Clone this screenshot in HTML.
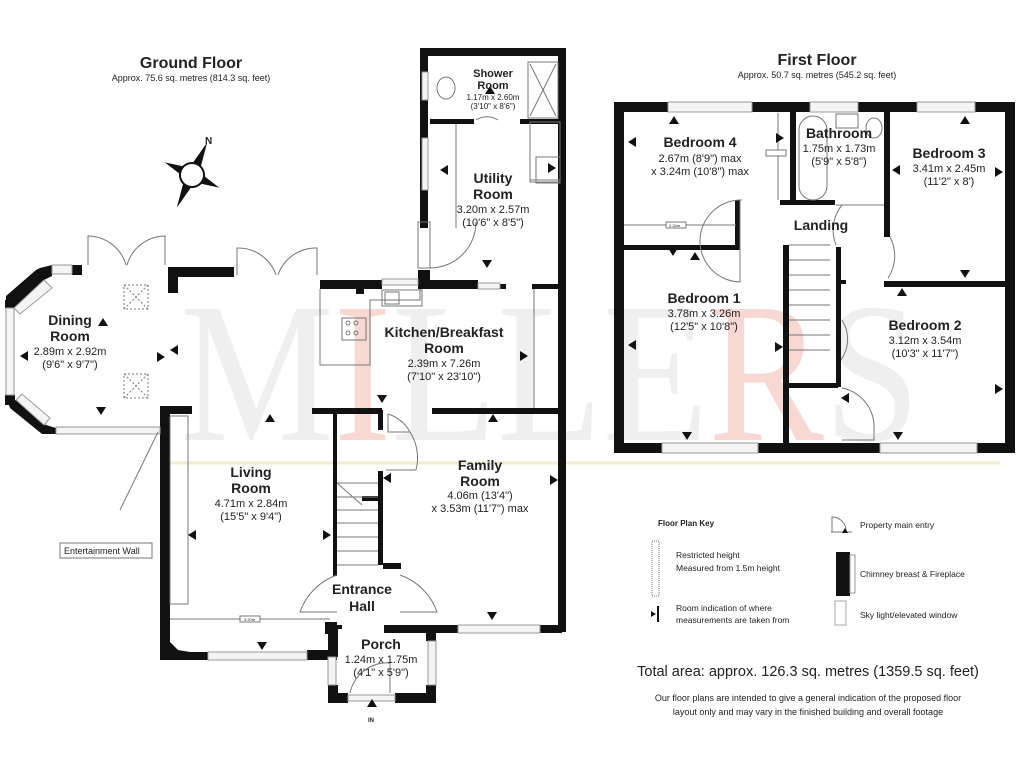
<!DOCTYPE html>
<html><head><meta charset="utf-8"><style>
html,body{margin:0;padding:0;background:#fff;}
svg{display:block;font-family:"Liberation Sans",Arial,sans-serif;}
.b{font-weight:bold;fill:#222;}
.t{fill:#222;}
.w{fill:#111;}
.win{fill:#f4f4f4;stroke:#999;stroke-width:1;}
.ln{stroke:#777;stroke-width:1;fill:none;}
.tri{fill:#111;}
</style></head><body>
<svg width="1024" height="768" viewBox="0 0 1024 768" xmlns="http://www.w3.org/2000/svg">
<rect width="1024" height="768" fill="#fff"/>
<!-- watermark -->
<text x="180" y="440" font-family="Liberation Serif,serif" font-size="200" fill="#efefef" textLength="740" lengthAdjust="spacingAndGlyphs">M<tspan fill="#f8d8d2">I</tspan>LLE<tspan fill="#f8d8d2">R</tspan>S</text>
<line x1="160" y1="463" x2="1000" y2="463" stroke="#efeed2" stroke-width="3"/>

<!-- Titles -->
<text x="191" y="68" class="b" font-size="16" text-anchor="middle">Ground Floor</text>
<text x="191" y="81" class="t" font-size="9" text-anchor="middle">Approx. 75.6 sq. metres (814.3 sq. feet)</text>
<text x="817" y="65" class="b" font-size="16" text-anchor="middle">First Floor</text>
<text x="817" y="78" class="t" font-size="9" text-anchor="middle">Approx. 50.7 sq. metres (545.2 sq. feet)</text>

<!-- Compass -->
<g transform="translate(192,175) rotate(25)">
<polygon points="0,-36 5,-8 -5,-8" class="w"/><polygon points="0,36 5,8 -5,8" class="w"/>
<polygon points="-30,0 -8,-5 -8,5" class="w"/><polygon points="30,0 8,-5 8,5" class="w"/>
<circle r="12" fill="#fff" stroke="#111" stroke-width="2"/>
</g>
<text x="205" y="144" class="b" font-size="10">N</text>

<!-- ===== GROUND FLOOR WALLS ===== -->
<g class="w">
<rect x="420" y="48" width="146" height="8"/>
<rect x="420" y="48" width="8" height="180"/>
<rect x="558" y="48" width="8" height="584"/>
<rect x="430" y="119" width="44" height="5"/>
<rect x="520" y="119" width="40" height="5"/>
<rect x="320" y="280" width="62" height="9"/>
<rect x="418" y="270" width="12" height="18"/>
<rect x="418" y="280" width="60" height="9"/>
<rect x="500" y="284" width="6" height="5"/>
<rect x="532" y="284" width="28" height="5"/>
<rect x="356" y="282" width="8" height="12"/>
<rect x="168" y="267" width="66" height="10"/>
<rect x="168" y="267" width="10" height="26"/>
<rect x="72" y="265" width="10" height="10"/>
<polygon points="40,268 52,265 52,276 44,280 14,308 6,305 6,296 36,270"/>
<rect x="5" y="300" width="10" height="8"/>
<rect x="5" y="395" width="10" height="10"/>
<polygon points="8,402 16,400 46,425 56,428 56,434 42,434 10,408"/>
<rect x="160" y="406" width="10" height="254"/>
<rect x="160" y="406" width="32" height="8"/>
<polygon points="168,640 178,650 190,652 208,652 208,660 160,660 160,640"/>
<rect x="307" y="650" width="30" height="10"/>
<rect x="312" y="408" width="70" height="6"/>
<rect x="333" y="410" width="4" height="166"/>
<rect x="432" y="408" width="128" height="6"/>
<rect x="378" y="410" width="5" height="20"/>
<rect x="378" y="471" width="5" height="94"/>
<rect x="362" y="496" width="18" height="5"/>
<rect x="383" y="563" width="18" height="6"/>
<rect x="385" y="625" width="73" height="8"/>
<rect x="540" y="625" width="22" height="8"/>
<rect x="325" y="622" width="12" height="12"/>
<rect x="328" y="627" width="10" height="30"/>
<rect x="426" y="627" width="10" height="14"/>
<rect x="328" y="685" width="10" height="18"/>
<rect x="426" y="685" width="10" height="18"/>
<rect x="328" y="693" width="20" height="10"/>
<rect x="395" y="693" width="41" height="10"/>
<rect x="336" y="625" width="6" height="4"/>
<rect x="384" y="625" width="2" height="8"/>
<!-- FIRST FLOOR -->
<rect x="614" y="102" width="401" height="10"/>
<rect x="614" y="102" width="10" height="351"/>
<rect x="1005" y="102" width="10" height="351"/>
<rect x="614" y="443" width="401" height="10"/>
<rect x="624" y="245" width="116" height="5"/>
<rect x="735" y="200" width="5" height="50"/>
<rect x="790" y="112" width="6" height="90"/>
<rect x="780" y="200" width="55" height="5"/>
<rect x="884" y="112" width="6" height="125"/>
<rect x="884" y="281" width="128" height="6"/>
<rect x="783" y="245" width="6" height="200"/>
<rect x="836" y="247" width="5" height="140"/>
<rect x="836" y="280" width="10" height="4"/>
<rect x="786" y="383" width="52" height="5"/>
</g>

<!-- windows ground -->
<rect x="422" y="72" width="6" height="28" class="win"/>
<rect x="422" y="138" width="6" height="52" class="win"/>
<rect x="52" y="265" width="20" height="9" class="win"/>
<rect x="6" y="308" width="8" height="87" class="win"/>
<polygon points="14,308 44,280 52,288 20,314" class="win"/>
<polygon points="16,400 22,394 50,418 44,425" class="win"/>
<rect x="56" y="427" width="104" height="7" class="win"/>
<rect x="208" y="652" width="99" height="8" class="win"/>
<rect x="458" y="625" width="82" height="8" class="win"/>
<rect x="328" y="657" width="8" height="28" class="win"/>
<rect x="428" y="641" width="8" height="44" class="win"/>
<rect x="348" y="695" width="47" height="6" class="win"/>
<rect x="382" y="279" width="36" height="6" class="win"/>
<rect x="478" y="283" width="22" height="6" class="win"/>
<rect x="668" y="102" width="84" height="10" class="win"/>
<rect x="810" y="102" width="48" height="10" class="win"/>
<rect x="917" y="102" width="58" height="10" class="win"/>
<rect x="662" y="443" width="96" height="10" class="win"/>
<rect x="880" y="443" width="97" height="10" class="win"/>

<g class="ln">
<path d="M88,265 V236 A40,40 0 0 1 126,265"/><path d="M165,265 V236 A40,40 0 0 0 127,265"/>
<path d="M237,275 V248 A40,40 0 0 1 276,275"/><path d="M317,275 V248 A40,40 0 0 0 278,275"/>
<path d="M418,222 H430 V268 H418 Z"/><path d="M430,268 A46,46 0 0 0 476,222"/>
<path d="M476,120 A20,20 0 0 1 498,120"/>
<rect x="528" y="62" width="30" height="56"/><path d="M530,64 L556,116 M530,116 L556,64"/>
<ellipse cx="446" cy="88" rx="9" ry="11"/>
<rect x="530" y="122" width="30" height="58"/><rect x="536" y="157" width="24" height="26"/>
<path d="M456,124 V228 M530,124 V182 H560"/>
<path d="M320,289 V365 H370 V300 H420 V289"/>
<rect x="382" y="290" width="40" height="16"/><rect x="385" y="292" width="14" height="12"/>
<rect x="342" y="318" width="24" height="22"/>
<circle cx="348" cy="323" r="2"/><circle cx="356" cy="323" r="2"/><circle cx="348" cy="333" r="2"/><circle cx="356" cy="333" r="2"/>
<path d="M534,289 V408"/>
<rect x="124" y="285" width="24" height="24" stroke-dasharray="2,2"/><path d="M124,285 L148,309 M148,285 L124,309" stroke-dasharray="2,2"/>
<rect x="124" y="374" width="24" height="24" stroke-dasharray="2,2"/><path d="M124,374 L148,398 M148,374 L124,398" stroke-dasharray="2,2"/>
<rect x="170" y="416" width="18" height="188"/>
<path d="M170,619 H330"/><rect x="240" y="616" width="20" height="6" fill="#fff"/>
<path d="M388,414 V432 H410 A38,38 0 0 0 388,414"/>
<path d="M410,432 A48,48 0 0 1 416,470 L386,470"/>
<path d="M337,483 H378 M337,497 H378 M337,510 H378 M337,523 H378 M337,537 H378 M337,551 H378 M337,565 H378"/>
<path d="M337,483 L362,505"/>
<path d="M337,575 A60,60 0 0 0 300,612 H337"/><path d="M400,575 A60,60 0 0 1 437,612 H400"/>
<path d="M350,693 A38,38 0 0 1 390,663 V693"/>
<path d="M158,432 L120,510 M60,543 H152 V558 H60 Z"/>
</g>
<text x="64" y="554" font-size="9" class="t">Entertainment Wall</text>
<text x="244" y="621" font-size="4" class="t">3.20m</text>

<g class="ln">
<path d="M778,113 V200"/><rect x="766" y="150" width="20" height="6" fill="#fff"/>
<path d="M624,225 H736"/><rect x="666" y="222" width="20" height="6" fill="#fff"/>
<rect x="799" y="116" width="28" height="84" rx="14"/>
<rect x="836" y="114" width="22" height="14"/>
<ellipse cx="874" cy="128" rx="8" ry="10"/>
<path d="M742,200 A40,40 0 0 0 740,282 V200"/>
<path d="M836,205 H884 M842,205 A40,40 0 0 0 836,245"/>
<path d="M890,237 A40,40 0 0 1 888,278"/>
<path d="M841,360 A36,36 0 0 0 842,320"/>
<path d="M789,245 H830 M789,260 H830 M789,275 H830 M789,290 H830 M789,305 H830 M789,320 H830 M789,335 H830 M789,350 H830"/>
<path d="M842,388 A40,40 0 0 1 874,430 V440 H842"/>
</g>
<text x="669" y="227" font-size="4" class="t">2.34m</text>

<g class="tri">
<polygon points="103,318 98,326 108,326"/><polygon points="490,86 485,94 495,94"/>
<polygon points="440,170 448,165 448,175"/><polygon points="556,168 548,163 548,173"/>
<polygon points="178,345 170,350 178,355"/><polygon points="165,357 157,352 157,362"/>
<polygon points="20,356 28,351 28,361"/><polygon points="101,415 96,407 106,407"/>
<polygon points="487,268 482,260 492,260"/><polygon points="370,281 365,289 375,289"/>
<polygon points="528,356 520,351 520,361"/><polygon points="382,403 377,395 387,395"/>
<polygon points="270,414 265,422 275,422"/><polygon points="493,414 488,422 498,422"/>
<polygon points="188,535 196,530 196,540"/><polygon points="331,535 323,530 323,540"/>
<polygon points="262,650 257,642 267,642"/><polygon points="383,478 391,473 391,483"/>
<polygon points="558,480 550,475 550,485"/><polygon points="492,620 487,612 497,612"/>
<polygon points="372,699 367,707 377,707"/>
<polygon points="674,116 669,124 679,124"/><polygon points="628,142 636,137 636,147"/>
<polygon points="784,138 776,133 776,143"/><polygon points="673,256 668,248 678,248"/>
<polygon points="695,252 690,260 700,260"/><polygon points="965,116 960,124 970,124"/>
<polygon points="892,170 900,165 900,175"/><polygon points="1003,172 995,167 995,177"/>
<polygon points="965,278 960,270 970,270"/><polygon points="902,288 897,296 907,296"/>
<polygon points="628,345 636,340 636,350"/><polygon points="783,347 775,342 775,352"/>
<polygon points="687,440 682,432 692,432"/><polygon points="898,440 893,432 903,432"/>
<polygon points="1003,389 995,384 995,394"/><polygon points="841,398 849,393 849,403"/>
</g>

<g text-anchor="middle">
<text x="493" y="77" class="b" font-size="11">Shower</text>
<text x="493" y="89" class="b" font-size="11">Room</text>
<text x="493" y="100" class="t" font-size="8">1.17m x 2.60m</text>
<text x="493" y="109" class="t" font-size="8">(3'10" x 8'6")</text>
<text x="493" y="183" class="b" font-size="14">Utility</text>
<text x="493" y="199" class="b" font-size="14">Room</text>
<text x="493" y="213" class="t" font-size="11">3.20m x 2.57m</text>
<text x="493" y="226" class="t" font-size="11">(10'6" x 8'5")</text>
<text x="70" y="325" class="b" font-size="14">Dining</text>
<text x="70" y="341" class="b" font-size="14">Room</text>
<text x="70" y="355" class="t" font-size="11">2.89m x 2.92m</text>
<text x="70" y="368" class="t" font-size="11">(9'6" x 9'7")</text>
<text x="444" y="337" class="b" font-size="14">Kitchen/Breakfast</text>
<text x="444" y="353" class="b" font-size="14">Room</text>
<text x="444" y="367" class="t" font-size="11">2.39m x 7.26m</text>
<text x="444" y="380" class="t" font-size="11">(7'10" x 23'10")</text>
<text x="251" y="477" class="b" font-size="14">Living</text>
<text x="251" y="493" class="b" font-size="14">Room</text>
<text x="251" y="507" class="t" font-size="11">4.71m x 2.84m</text>
<text x="251" y="520" class="t" font-size="11">(15'5" x 9'4")</text>
<text x="480" y="470" class="b" font-size="14">Family</text>
<text x="480" y="486" class="b" font-size="14">Room</text>
<text x="480" y="499" class="t" font-size="11">4.06m (13'4")</text>
<text x="480" y="512" class="t" font-size="11">x 3.53m (11'7") max</text>
<text x="362" y="594" class="b" font-size="14">Entrance</text>
<text x="362" y="611" class="b" font-size="14">Hall</text>
<text x="381" y="649" class="b" font-size="14">Porch</text>
<text x="381" y="663" class="t" font-size="11">1.24m x 1.75m</text>
<text x="381" y="676" class="t" font-size="11">(4'1" x 5'9")</text>
<text x="371" y="722" class="b" font-size="6">IN</text>
<text x="700" y="147" class="b" font-size="14">Bedroom 4</text>
<text x="700" y="162" class="t" font-size="11">2.67m (8'9") max</text>
<text x="700" y="175" class="t" font-size="11">x 3.24m (10'8") max</text>
<text x="839" y="138" class="b" font-size="14">Bathroom</text>
<text x="839" y="152" class="t" font-size="11">1.75m x 1.73m</text>
<text x="839" y="165" class="t" font-size="11">(5'9" x 5'8")</text>
<text x="949" y="158" class="b" font-size="14">Bedroom 3</text>
<text x="949" y="172" class="t" font-size="11">3.41m x 2.45m</text>
<text x="949" y="185" class="t" font-size="11">(11'2" x 8')</text>
<text x="821" y="230" class="b" font-size="14">Landing</text>
<text x="704" y="303" class="b" font-size="14">Bedroom 1</text>
<text x="704" y="317" class="t" font-size="11">3.78m x 3.26m</text>
<text x="704" y="330" class="t" font-size="11">(12'5" x 10'8")</text>
<text x="925" y="330" class="b" font-size="14">Bedroom 2</text>
<text x="925" y="344" class="t" font-size="11">3.12m x 3.54m</text>
<text x="925" y="357" class="t" font-size="11">(10'3" x 11'7")</text>
</g>

<text x="658" y="526" class="b" font-size="8">Floor Plan Key</text>
<rect x="652" y="541" width="7" height="55" fill="#fff" stroke="#777" stroke-dasharray="1,1"/>
<text x="676" y="558" class="t" font-size="8.5">Restricted height</text>
<text x="676" y="571" class="t" font-size="8.5">Measured from 1.5m height</text>
<rect x="657" y="606" width="2" height="16" fill="#111"/><polygon points="651,611 656,614 651,617" fill="#111"/>
<text x="676" y="611" class="t" font-size="8.5">Room indication of where</text>
<text x="676" y="623" class="t" font-size="8.5">measurements are taken from</text>
<path d="M832,532 V517 A14,14 0 0 1 846,532 M831,532 H852" stroke="#777" fill="none"/>
<polygon points="845,528 842,533 848,533" fill="#111"/>
<text x="860" y="528" class="t" font-size="8.5">Property main entry</text>
<rect x="836" y="552" width="14" height="44" fill="#111"/><rect x="850" y="555" width="5" height="38" fill="#fff" stroke="#999"/>
<text x="860" y="577" class="t" font-size="8.5">Chimney breast &amp; Fireplace</text>
<rect x="835" y="601" width="11" height="24" fill="#fff" stroke="#aaa"/>
<text x="860" y="618" class="t" font-size="8.5">Sky light/elevated window</text>
<text x="808" y="676" class="t" font-size="14.5" text-anchor="middle">Total area: approx. 126.3 sq. metres (1359.5 sq. feet)</text>
<text x="808" y="701" class="t" font-size="9" text-anchor="middle">Our floor plans are intended to give a general indication of the proposed floor</text>
<text x="808" y="715" class="t" font-size="9" text-anchor="middle">layout only and may vary in the finished building and overall footage</text>
</svg>
</body></html>
